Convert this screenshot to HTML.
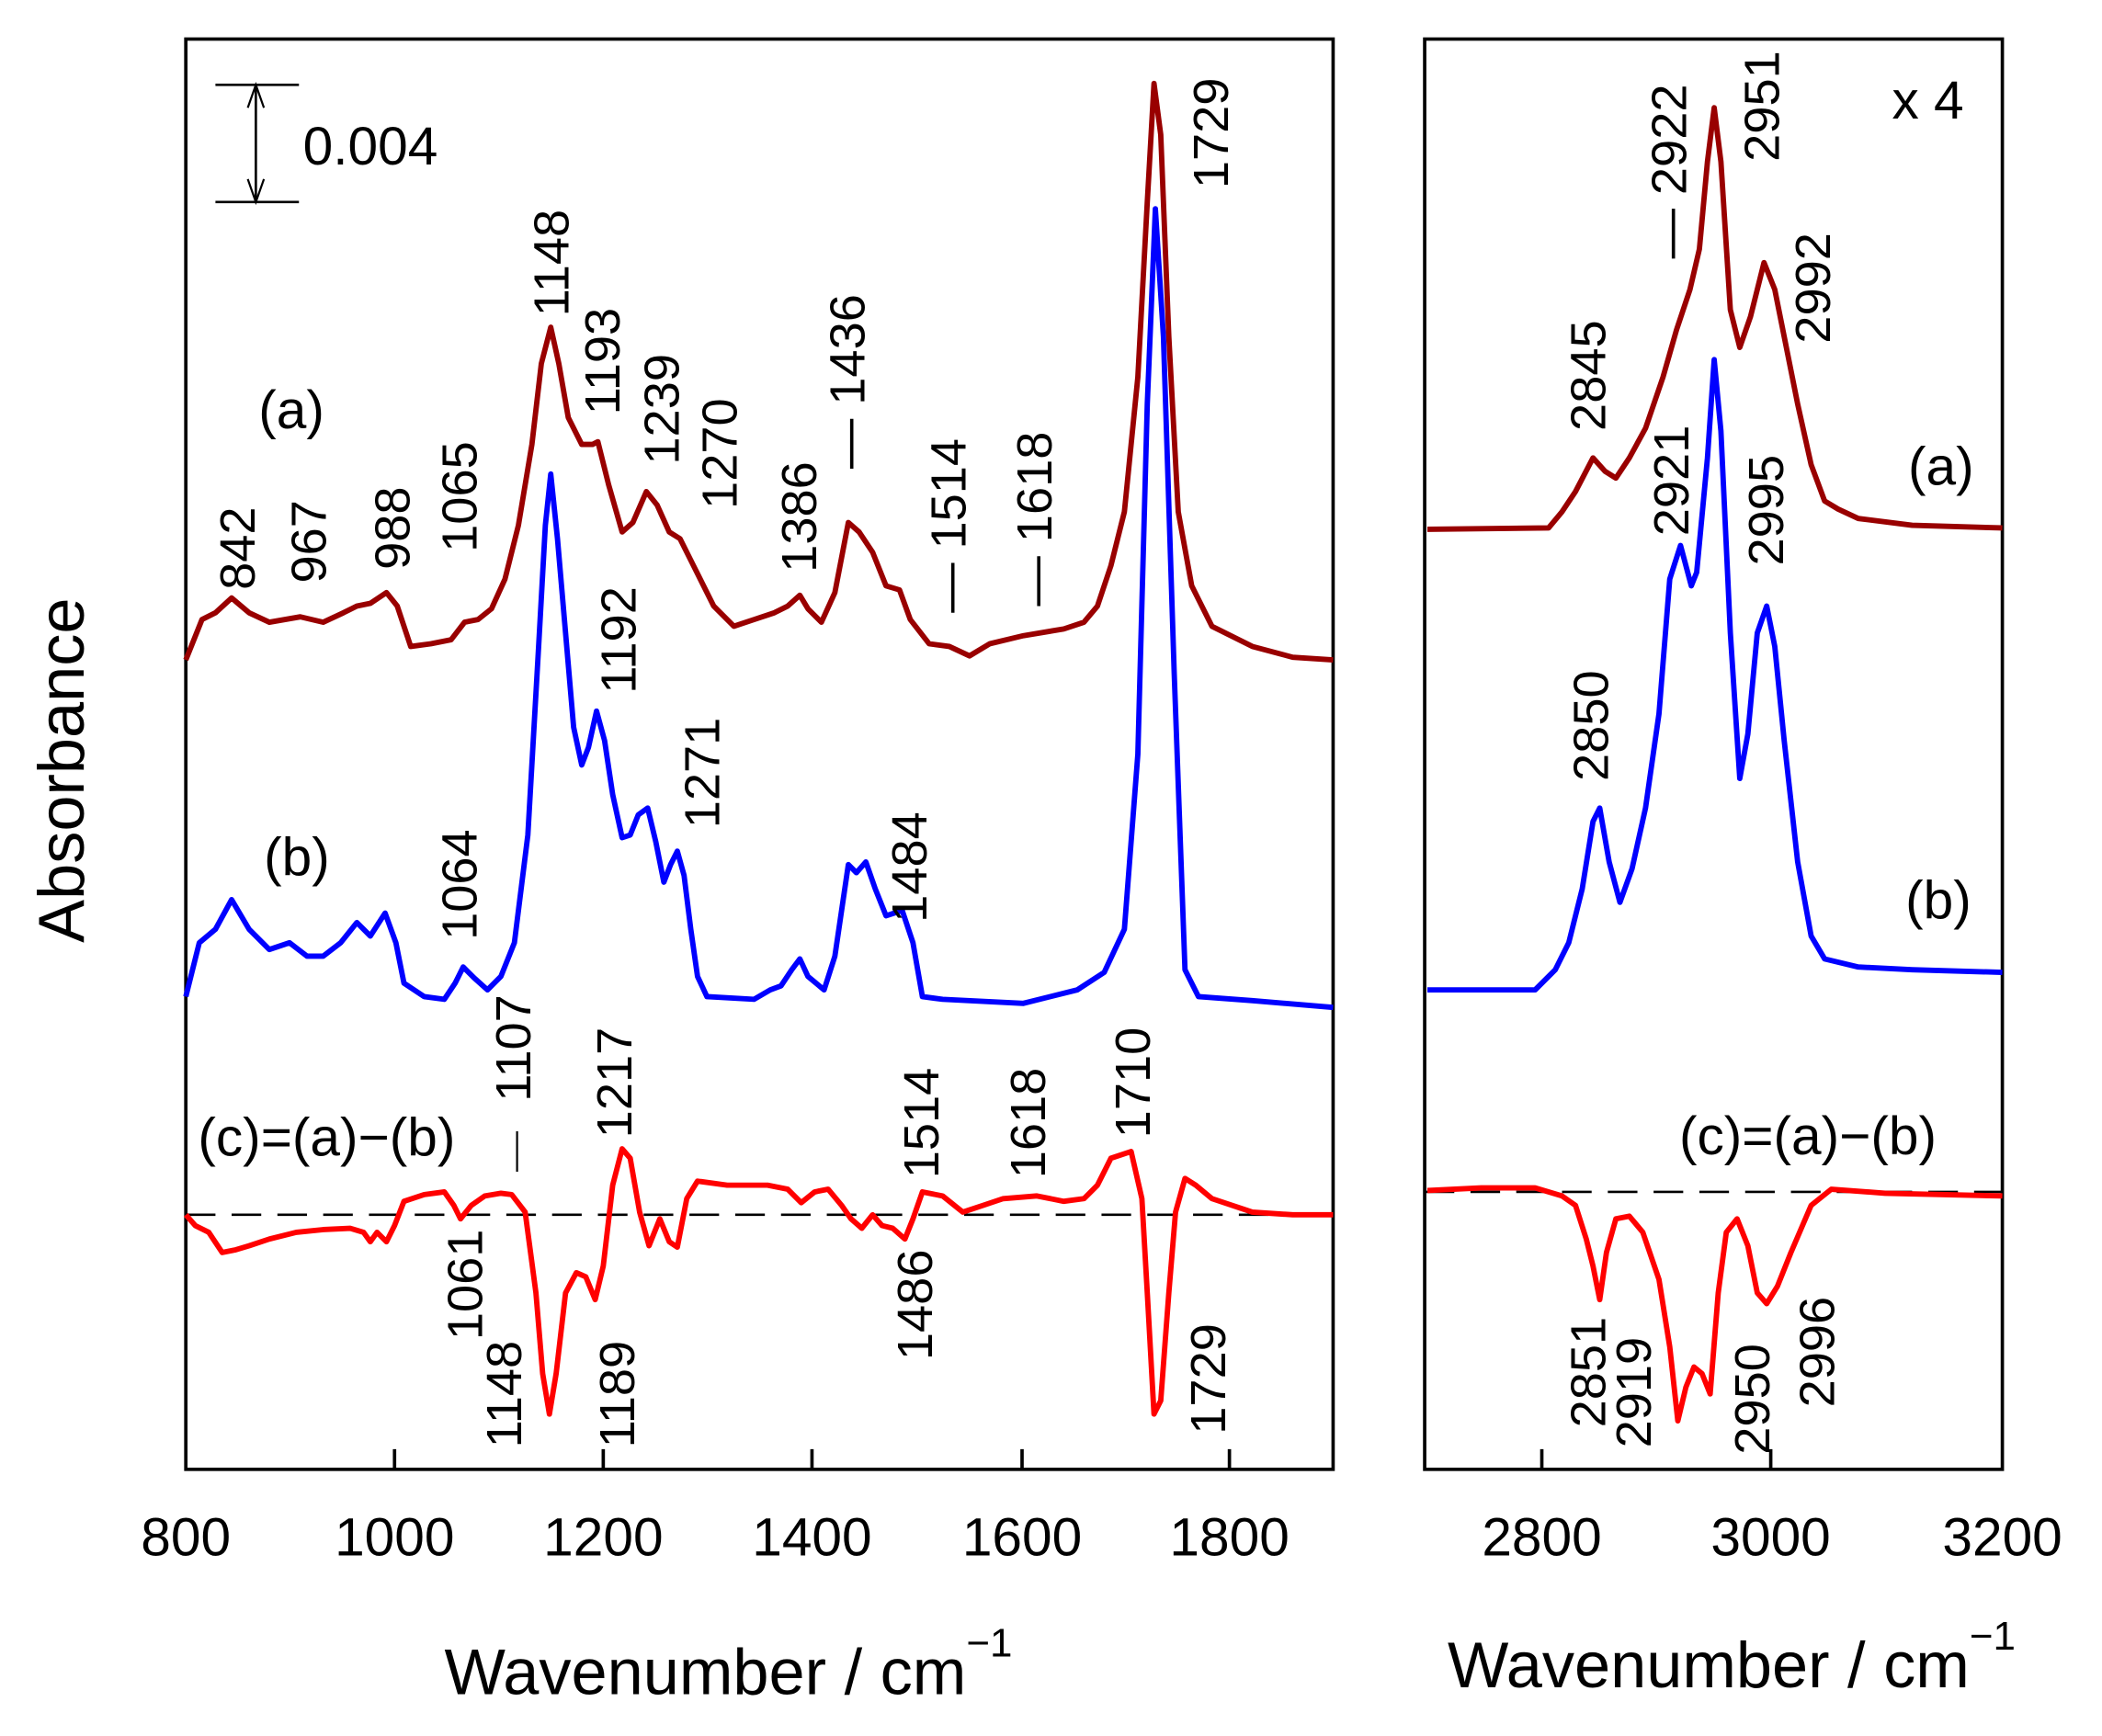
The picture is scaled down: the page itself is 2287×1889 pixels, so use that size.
<!DOCTYPE html>
<html><head><meta charset="utf-8"><style>html,body{margin:0;padding:0;background:#fff}svg{display:block}</style></head><body>
<svg width="2287" height="1889" viewBox="0 0 1561 1289" preserveAspectRatio="none" xmlns="http://www.w3.org/2000/svg" font-family="Liberation Sans, Arial, sans-serif">
<rect width="1561" height="1289" fill="#fff"/>
<g fill="none" stroke="#000" stroke-width="2.5">
<rect x="138" y="29" width="852" height="1062"/>
<rect x="1058" y="29" width="429" height="1062"/>
<path d="M293 1091v-15M448 1091v-15M603 1091v-15M759 1091v-15M913 1091v-15M1145 1091v-15M1315 1091v-15"/>
<path d="M160 63h62M160 150h62M190 63v87" stroke-width="1.8"/>
<path d="M184 80l6-17 6 17M184 133l6 17 6-17" stroke-width="1.5"/>
</g>
<g fill="none" stroke="#000" stroke-width="1.8" stroke-dasharray="22,12">
<path d="M138 902H990"/><path d="M1058 885H1487"/>
</g>
<g fill="none" stroke-width="4" stroke-linejoin="round">
<polyline stroke="#990000" points="138,490 150,460 160,455 172,444 185,455 200,462 223,458 240,462 255,455 265,450 275,448 287,440 295,450 305,480 320,478 335,475 345,462 355,460 365,452 375,430 385,390 395,330 402,270 409,243 415,270 422,310 432,330 440,330 444,328 452,360 462,395 470,388 480,365 488,375 497,395 505,400 515,420 530,450 545,465 560,460 575,455 585,450 594,442 600,452 610,462 620,440 630,388 638,395 648,410 658,435 668,438 676,460 690,478 705,480 720,487 735,478 760,472 790,467 805,462 815,450 825,420 835,380 845,280 852,150 857,62 862,100 868,250 875,380 885,435 900,465 930,480 960,488 990,490"/>
<polyline stroke="#0000ff" points="138,740 148,700 160,690 172,668 185,690 200,705 215,700 228,710 240,710 253,700 265,685 275,695 286,678 294,700 300,730 315,740 330,742 338,730 344,718 352,726 362,735 372,725 382,700 392,620 400,480 405,390 409,352 414,400 420,470 426,540 432,568 437,555 443,528 449,550 455,590 462,622 468,620 474,605 481,600 487,625 493,655 498,642 503,632 508,650 513,690 518,725 525,740 560,742 572,735 580,732 588,720 594,712 600,725 612,735 620,710 630,642 636,648 643,640 650,660 658,680 670,676 678,700 685,740 700,742 760,745 800,735 820,722 835,690 845,560 852,300 858,155 864,250 872,500 880,720 890,740 930,743 990,748"/>
<polyline stroke="#ff0000" points="138,902 145,910 155,915 165,930 175,928 185,925 200,920 220,915 240,913 260,912 270,915 275,922 280,915 287,922 293,910 300,892 315,887 330,885 337,895 342,905 350,895 360,888 372,886 380,887 390,900 398,960 403,1020 408,1050 413,1020 420,960 428,945 435,948 442,965 448,940 455,880 462,853 468,860 475,900 482,925 490,905 497,922 503,926 510,890 518,877 540,880 570,880 585,883 595,893 605,885 615,883 625,895 632,905 640,912 648,902 655,910 663,912 672,920 678,905 685,885 700,888 715,900 730,895 745,890 770,888 790,892 805,890 815,880 825,860 840,855 848,890 852,960 857,1050 862,1040 868,960 873,900 880,875 888,880 900,890 930,900 960,902 990,902"/>
<polyline stroke="#990000" points="1060,393 1150,392 1160,380 1170,365 1183,340 1192,350 1200,355 1210,340 1222,318 1235,280 1245,245 1255,215 1262,185 1268,120 1273,80 1278,120 1285,230 1292,258 1300,235 1310,195 1318,215 1325,250 1335,300 1345,345 1355,372 1365,378 1380,385 1420,390 1487,392"/>
<polyline stroke="#0000ff" points="1060,735 1140,735 1155,720 1165,700 1175,660 1183,610 1188,600 1195,640 1203,670 1212,645 1222,600 1232,530 1240,430 1248,405 1256,435 1260,425 1268,340 1273,267 1278,320 1285,470 1292,578 1298,545 1305,470 1312,450 1318,480 1325,550 1335,640 1345,695 1355,712 1380,718 1420,720 1487,722"/>
<polyline stroke="#ff0000" points="1060,884 1100,882 1140,882 1160,888 1170,895 1178,920 1183,940 1188,965 1193,930 1200,905 1210,903 1220,915 1232,950 1240,1000 1246,1055 1252,1030 1258,1015 1264,1020 1270,1035 1276,960 1282,915 1290,905 1298,925 1305,960 1312,968 1320,955 1330,930 1345,895 1360,883 1400,886 1487,888"/>
</g>
<path d="M384 870v-30" stroke="#000" stroke-width="1.5"/>
<g font-size="40" text-anchor="middle">
<text x="138" y="1155">800</text><text x="293" y="1155">1000</text><text x="448" y="1155">1200</text><text x="603" y="1155">1400</text><text x="759" y="1155">1600</text><text x="913" y="1155">1800</text>
<text x="1145" y="1155">2800</text><text x="1315" y="1155">3000</text><text x="1487" y="1155">3200</text>
</g>
<g font-size="48">
<text x="330" y="1258">Wavenumber / cm<tspan dy="-28" font-size="30">−1</tspan></text>
<text x="1075" y="1253">Wavenumber / cm<tspan dy="-28" font-size="30">−1</tspan></text>
<text transform="translate(62,700) rotate(-90)">Absorbance</text>
</g>
<g font-size="40">
<text x="225" y="122">0.004</text>
<text x="192" y="318">(a)</text><text x="196" y="650">(b)</text><text x="147" y="858">(c)=(a)−(b)</text>
<text x="1417" y="360">(a)</text><text x="1415" y="682">(b)</text><text x="1247" y="857">(c)=(a)−(b)</text>
<text x="1405" y="88">x 4</text>
</g>
<g font-size="37">
<text transform="translate(189,438) rotate(-90)">842</text>
<text transform="translate(242,433) rotate(-90)">967</text>
<text transform="translate(304,423) rotate(-90)">988</text>
<text transform="translate(354,410) rotate(-90)">1065</text>
<text transform="translate(422,235) rotate(-90)">1148</text>
<text transform="translate(460,308) rotate(-90)">1193</text>
<text transform="translate(504,345) rotate(-90)">1239</text>
<text transform="translate(547,378) rotate(-90)">1270</text>
<text transform="translate(606,425) rotate(-90)">1386</text>
<text transform="translate(642,348) rotate(-90)">— 1436</text>
<text transform="translate(717,455) rotate(-90)">— 1514</text>
<text transform="translate(781,450) rotate(-90)">— 1618</text>
<text transform="translate(912,140) rotate(-90)">1729</text>
<text transform="translate(472,515) rotate(-90)">1192</text>
<text transform="translate(534,615) rotate(-90)">1271</text>
<text transform="translate(354,698) rotate(-90)">1064</text>
<text transform="translate(688,685) rotate(-90)">1484</text>
<text transform="translate(394,818) rotate(-90)">1107</text>
<text transform="translate(469,845) rotate(-90)">1217</text>
<text transform="translate(697,875) rotate(-90)">1514</text>
<text transform="translate(776,875) rotate(-90)">1618</text>
<text transform="translate(854,845) rotate(-90)">1710</text>
<text transform="translate(358,995) rotate(-90)">1061</text>
<text transform="translate(387,1075) rotate(-90)">1148</text>
<text transform="translate(471,1075) rotate(-90)">1189</text>
<text transform="translate(692,1010) rotate(-90)">1486</text>
<text transform="translate(910,1065) rotate(-90)">1729</text>
<text transform="translate(1252,192) rotate(-90)">— 2922</text>
<text transform="translate(1321,120) rotate(-90)">2951</text>
<text transform="translate(1359,255) rotate(-90)">2992</text>
<text transform="translate(1192,320) rotate(-90)">2845</text>
<text transform="translate(1254,398) rotate(-90)">2921</text>
<text transform="translate(1324,420) rotate(-90)">2995</text>
<text transform="translate(1194,580) rotate(-90)">2850</text>
<text transform="translate(1192,1060) rotate(-90)">2851</text>
<text transform="translate(1226,1075) rotate(-90)">2919</text>
<text transform="translate(1314,1080) rotate(-90)">2950</text>
<text transform="translate(1362,1045) rotate(-90)">2996</text>
</g>
</svg>
</body></html>
